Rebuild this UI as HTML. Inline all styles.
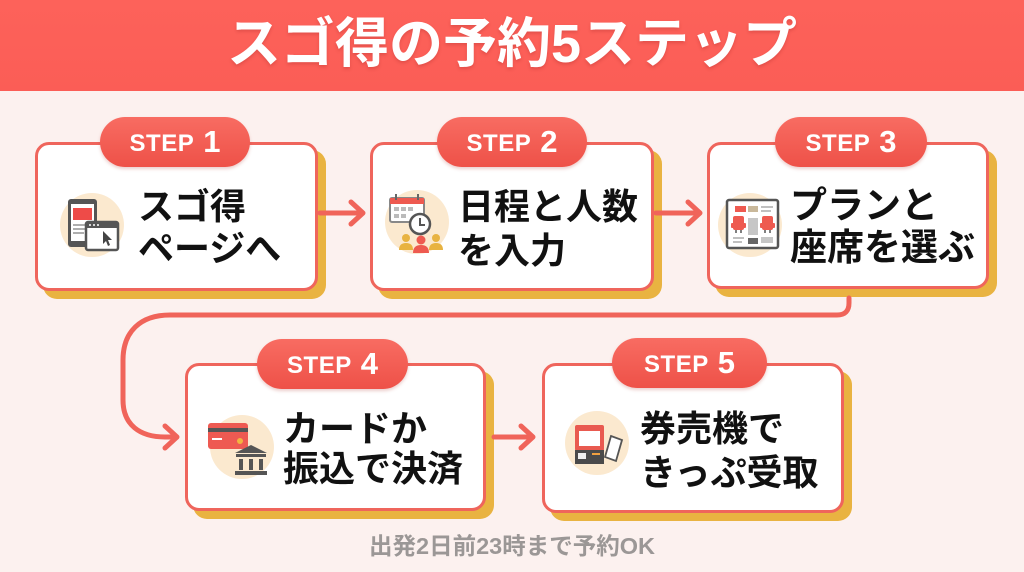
<!DOCTYPE html>
<html><head><meta charset="utf-8">
<style>
*{margin:0;padding:0;box-sizing:border-box}
html,body{width:1024px;height:572px;overflow:hidden;background:#fcf1ef;font-family:"Liberation Sans","Noto Sans CJK JP",sans-serif}
.hdr{position:absolute;left:0;top:0;width:1024px;height:91px;background:linear-gradient(#fd625a,#fb5d56)}
.title{position:absolute;left:0;top:9px;width:1024px;text-align:center;color:#fff;font-weight:700;font-size:54px;line-height:70px;letter-spacing:0px;text-shadow:0 2px 3px rgba(150,30,30,.25)}
.box{position:absolute;background:#fff;border:3.5px solid #ef655c;border-radius:14px;box-shadow:8px 8px 0 #e9b341}
.pill{position:absolute;height:50px;border-radius:25px;background:linear-gradient(#f86c62,#ee5148);color:#fff;font-weight:700;display:flex;align-items:center;justify-content:center;box-shadow:0 2px 3px rgba(180,60,50,.25)}
.pill .s{font-size:24px;letter-spacing:0.5px;margin-top:3px}
.pill .n{font-size:31px;margin-left:9px}
.t{position:absolute;color:#111;font-weight:700;font-size:36px;white-space:nowrap;font-family:"Liberation Sans","Noto Sans CJK JP",sans-serif}
.foot{position:absolute;left:0;top:531px;width:1024px;text-align:center;color:#9b9796;font-weight:700;font-size:23.5px;line-height:30px}
svg{position:absolute;left:0;top:0}
</style></head><body>
<div class="hdr"></div>
<div class="title">スゴ得の予約5ステップ</div>

<div class="box" style="left:35px;top:142px;width:283px;height:149px"></div>
<div class="box" style="left:370px;top:142px;width:284px;height:149px"></div>
<div class="box" style="left:707px;top:142px;width:282px;height:147px"></div>
<div class="box" style="left:185px;top:363px;width:301px;height:148px"></div>
<div class="box" style="left:542px;top:363px;width:302px;height:150px"></div>

<svg width="1024" height="572" viewBox="0 0 1024 572">
 <g fill="none" stroke="#f0645a" stroke-width="5" stroke-linecap="round" stroke-linejoin="round">
  <path d="M320,213 L362,213 M351,202 L363,213 L351,224"/>
  <path d="M656,213 L699,213 M688,202 L700,213 L688,224"/>
  <path d="M849,298 L849,303 Q849,315 837,315 L170,315 C140,315 123,332 123,360 L123,400 C123,425 140,437 165,437 L176,437 M165,426 L177,437 L165,448"/>
  <path d="M494,437 L532,437 M521,426 L533,437 L521,448"/>
 </g>
 <g fill="#fbe9cf">
  <circle cx="92" cy="225" r="32"/>
  <circle cx="417" cy="222" r="32"/>
  <circle cx="750" cy="225" r="32"/>
  <circle cx="242" cy="447" r="32"/>
  <circle cx="597" cy="443" r="32"/>
 </g>
 <rect x="68" y="199" width="29" height="48" rx="3" fill="#555"/>
 <rect x="71" y="204" width="23" height="37" fill="#fff"/>
 <rect x="73" y="208" width="19" height="12" fill="#ee4b48"/>
 <g stroke="#999" stroke-width="1.6"><line x1="73" y1="225" x2="88" y2="225"/><line x1="73" y1="229" x2="86" y2="229"/><line x1="73" y1="233" x2="84" y2="233"/></g>
 <rect x="86" y="222" width="32" height="28" rx="2" fill="#fff" stroke="#555" stroke-width="2.5"/>
 <rect x="86" y="222" width="32" height="6" fill="#555"/>
 <g fill="#fff"><circle cx="90" cy="225" r="1"/><circle cx="94" cy="225" r="1"/><circle cx="98" cy="225" r="1"/></g>
 <path d="M103,231 L112,240 L108,240 L110,245 L108,246 L106,241 L103,244 Z" fill="#444"/>
 <rect x="390" y="198" width="34" height="24" rx="2" fill="#fff" stroke="#888" stroke-width="2"/>
 <rect x="390" y="198" width="34" height="6" fill="#ee5a50"/>
 <g stroke="#666" stroke-width="2"><line x1="396" y1="194" x2="396" y2="200"/><line x1="418" y1="194" x2="418" y2="200"/></g>
 <g fill="#bbb"><rect x="394" y="207" width="5" height="4"/><rect x="401" y="207" width="5" height="4"/><rect x="408" y="207" width="5" height="4"/><rect x="394" y="214" width="5" height="4"/><rect x="401" y="214" width="5" height="4"/></g>
 <circle cx="420" cy="224" r="10" fill="#fff" stroke="#555" stroke-width="2.5"/>
 <path d="M420,218 L420,225 L425,225" stroke="#555" stroke-width="2" fill="none"/>
 <g fill="#e8b341"><circle cx="406" cy="238" r="4"/><path d="M399,250 Q399,243 406,243 Q413,243 413,250 Z"/><circle cx="436" cy="238" r="4"/><path d="M429,250 Q429,243 436,243 Q443,243 443,250 Z"/></g>
 <g fill="#ee5a50"><circle cx="421" cy="240" r="4.5"/><path d="M413,253 Q413,245 421,245 Q429,245 429,253 Z"/></g>
 <rect x="727" y="200" width="51" height="48" rx="2" fill="#fff" stroke="#555" stroke-width="2.5"/>
 <rect x="735" y="206" width="11" height="6" fill="#ee5a50"/>
 <rect x="748" y="206" width="10" height="6" fill="#c9b89a"/>
 <g stroke="#aaa" stroke-width="1.5"><line x1="761" y1="207" x2="773" y2="207"/><line x1="761" y1="211" x2="771" y2="211"/><line x1="733" y1="238" x2="744" y2="238"/><line x1="733" y1="242" x2="742" y2="242"/></g>
 <g fill="#ee5a50"><rect x="733" y="216" width="11" height="14" rx="2"/><rect x="731" y="223" width="15" height="5" rx="1"/><rect x="762" y="216" width="11" height="14" rx="2"/><rect x="760" y="223" width="15" height="5" rx="1"/></g>
 <g stroke="#555" stroke-width="1.5"><line x1="736" y1="230" x2="736" y2="233"/><line x1="741" y1="230" x2="741" y2="233"/><line x1="765" y1="230" x2="765" y2="233"/><line x1="770" y1="230" x2="770" y2="233"/></g>
 <rect x="748" y="218" width="10" height="17" fill="#c6c6c6"/>
 <rect x="748" y="238" width="10" height="6" fill="#666"/>
 <rect x="761" y="237" width="12" height="6" fill="#c6c6c6"/>
 <rect x="208" y="423" width="40" height="26" rx="3" fill="#ee5a52"/>
 <rect x="208" y="428" width="40" height="4" fill="#555"/>
 <rect x="212" y="438" width="10" height="2" fill="#fff"/>
 <circle cx="240" cy="441" r="3" fill="#f2b441"/>
 <g fill="#555"><path d="M251,445 L235,453 L267,453 Z"/><rect x="236" y="454" width="30" height="3"/><rect x="239" y="459" width="4" height="11"/><rect x="249" y="459" width="4" height="11"/><rect x="259" y="459" width="4" height="11"/><rect x="235" y="471" width="32" height="4"/></g>
 <rect x="575" y="425" width="29" height="26" rx="2" fill="#e95a50"/>
 <rect x="579" y="431" width="21" height="15" fill="#fff"/>
 <rect x="575" y="450" width="29" height="14" fill="#4a4a4a"/>
 <rect x="578" y="453" width="8" height="6" fill="#eee"/>
 <rect x="592" y="453" width="8" height="2" fill="#f0a040"/>
 <path d="M611,436 L622,440 L616,461 L605,457 Z" fill="#fff" stroke="#555" stroke-width="1.8"/>
</svg>

<div class="pill" style="left:100px;top:117px;width:150px"><span class="s">STEP</span><span class="n">1</span></div>
<div class="pill" style="left:437px;top:117px;width:150px"><span class="s">STEP</span><span class="n">2</span></div>
<div class="pill" style="left:775px;top:117px;width:152px"><span class="s">STEP</span><span class="n">3</span></div>
<div class="pill" style="left:257px;top:339px;width:151px"><span class="s">STEP</span><span class="n">4</span></div>
<div class="pill" style="left:612px;top:338px;width:155px"><span class="s">STEP</span><span class="n">5</span></div>

<div class="t" style="left:138px;top:186px;line-height:42px">スゴ得<br>ページへ</div>
<div class="t" style="left:458px;top:185px;line-height:44px">日程と人数<br>を入力</div>
<div class="t" style="left:790px;top:185px;line-height:42px;font-size:37px">プランと<br>座席を選ぶ</div>
<div class="t" style="left:283px;top:409px;line-height:40px">カードか<br>振込で決済</div>
<div class="t" style="left:640px;top:407px;line-height:44px">券売機で<br>きっぷ受取</div>

<div class="foot">出発2日前23時まで予約OK</div>
</body></html>
